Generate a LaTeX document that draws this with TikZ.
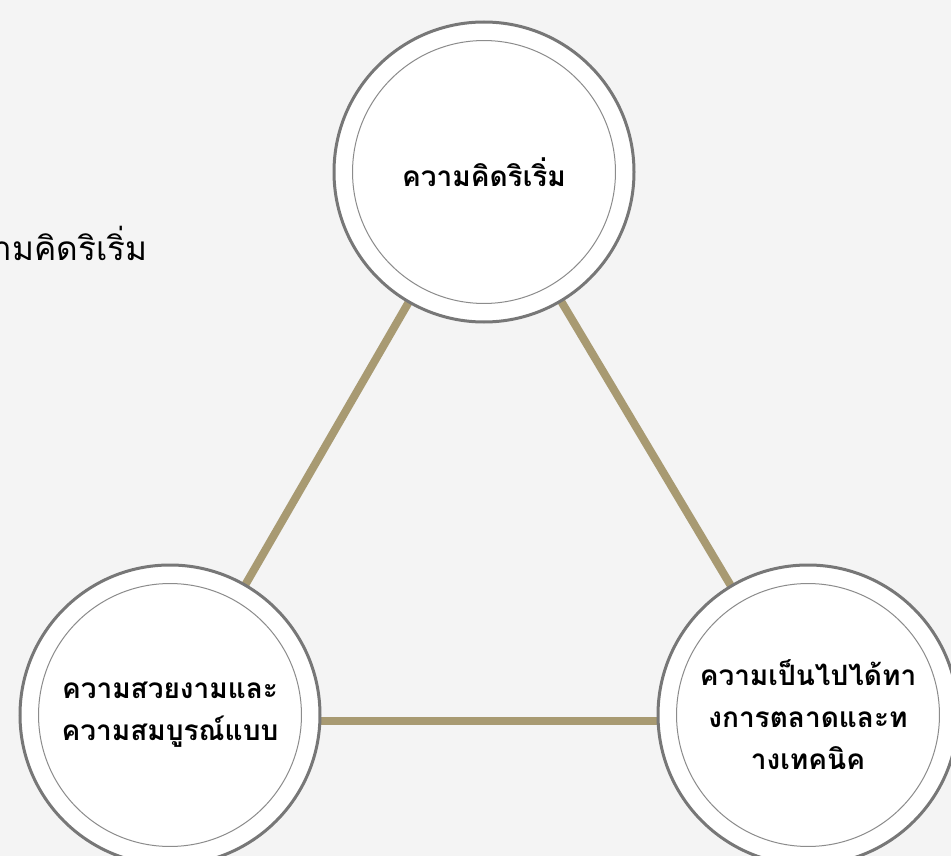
\documentclass[tikz,border=0pt]{standalone}
\usepackage{fontspec}
\usetikzlibrary{positioning,backgrounds}
\newfontfamily\thaifont[Script=Thai]{Loma}
\definecolor{pagegray}{HTML}{F4F4F4}
\definecolor{ringgray}{HTML}{777777}
\definecolor{innergray}{HTML}{8C8C8C}
\definecolor{linkgold}{HTML}{A89A72}
\newcommand{\ConceptDrop}{407.25pt}

\begin{document}
\begin{tikzpicture}[x=0.75pt, y=-0.75pt,
		concept/.style={circle, draw=ringgray, line width=2.25pt, fill=white, minimum size=225pt, inner sep=0pt, align=center,
			font=\thaifont\bfseries\fontsize{21}{31.5}\selectfont,
			path picture={\draw[innergray, line width=0.75pt] (path picture bounding box.center) circle (98.6pt);}},
		sidelabel/.style={inner sep=0pt, font=\thaifont\fontsize{25}{28}\selectfont},
		link/.style={linkgold, line width=6pt}]
	\useasboundingbox (0,0) rectangle (951,856);
	\clip (0,0) rectangle (951,856);
	% the three circles
	\node[concept] (idea) at (484,172) {ความคิดริเริ่ม};
	\node[concept, on grid, below left=\ConceptDrop and 235.5pt of idea] (beauty) {ความสวยงามและ\\ความสมบูรณ์แบบ};
	\node[concept, on grid, below right=\ConceptDrop and 243pt of idea] (market) {ความเป็นไปได้ทา\\งการตลาดและท\\างเทคนิค};
	\node[sidelabel, anchor=east] (sidenote) at (148,243) {ความคิดริเริ่ม};
	\begin{scope}[on background layer]
		\fill[pagegray] (0,0) rectangle (951,856);
		\draw[link] (idea.center) -- (beauty.center);
		\draw[link] (idea.center) -- (market.center);
		\draw[link] ([yshift=-4.5pt]beauty.center) -- ([yshift=-4.5pt]market.center);
	\end{scope}
\end{tikzpicture}
\end{document}
